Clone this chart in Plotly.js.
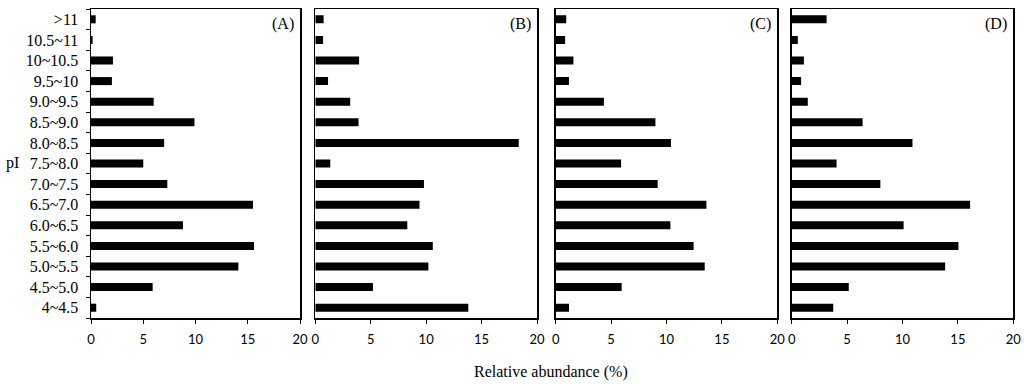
<!DOCTYPE html>
<html>
<head>
<meta charset="utf-8">
<script src="https://cdn.plot.ly/plotly-3.0.1.min.js"></script>
<style>html,body{margin:0;padding:0;background:#fff;}#chart{width:1024px;height:384px;}</style>
</head>
<body>
<div id="chart"></div>
<script>
const categories = ["4~4.5","4.5~5.0","5.0~5.5","5.5~6.0","6.0~6.5","6.5~7.0","7.0~7.5","7.5~8.0","8.0~8.5","8.5~9.0","9.0~9.5","9.5~10","10~10.5","10.5~11",">11"];
const panelA = [0.5, 5.9, 14.1, 15.6, 8.8, 15.5, 7.3, 5.0, 7.0, 9.9, 6.0, 2.0, 2.1, 0.15, 0.45];
const panelB = [13.8, 5.2, 10.2, 10.6, 8.3, 9.4, 9.8, 1.35, 18.35, 3.9, 3.15, 1.15, 3.95, 0.7, 0.75];
const panelC = [1.2, 5.95, 13.45, 12.45, 10.35, 13.6, 9.2, 5.9, 10.4, 9.0, 4.35, 1.2, 1.6, 0.85, 0.95];
const panelD = [3.75, 5.15, 13.85, 15.05, 10.1, 16.1, 8.0, 4.05, 10.9, 6.4, 1.45, 0.85, 1.1, 0.55, 3.15];
const panelLabels = ["(A)", "(B)", "(C)", "(D)"];
const xTicks = [0, 5, 10, 15, 20];

const series = [panelA, panelB, panelC, panelD];
const W = 1024, H = 384;
const xDomainsPx = [[91, 300], [315.3, 537], [555.7, 777.3], [791.7, 1013.3]];
const yDom = [1 - 318 / H, 1 - 9 / H];

const traces = series.map((vals, i) => ({
  type: 'bar',
  orientation: 'h',
  x: vals,
  y: categories,
  xaxis: i === 0 ? 'x' : 'x' + (i + 1),
  yaxis: i === 0 ? 'y' : 'y' + (i + 1),
  marker: {color: '#000000'},
  hoverinfo: 'x+y',
  showlegend: false
}));

const layout = {
  width: W, height: H,
  margin: {l: 0, r: 0, t: 0, b: 0},
  paper_bgcolor: '#ffffff',
  plot_bgcolor: '#ffffff',
  bargap: 0.61,
  showlegend: false,
  annotations: [],
  font: {family: 'Liberation Serif', color: '#000'}
};

xDomainsPx.forEach((d, i) => {
  const sfx = i === 0 ? '' : String(i + 1);
  layout['xaxis' + sfx] = {
    domain: [d[0] / W, d[1] / W],
    range: [0, 20],
    tickvals: xTicks,
    ticktext: xTicks.map(String),
    ticks: 'outside', ticklen: 4, tickwidth: 1, tickcolor: '#000',
    ticklabelstandoff: 5,
    showline: true, linecolor: '#000', linewidth: 1.5, mirror: true,
    showgrid: false, zeroline: false,
    tickfont: {family: 'Lato', size: 13, color: '#000'},
    anchor: 'y' + sfx,
    fixedrange: true
  };
  layout['yaxis' + sfx] = {
    domain: yDom,
    type: 'category',
    categoryorder: 'array',
    categoryarray: categories,
    range: [-0.5, categories.length - 0.5],
    showline: true, linecolor: '#000', linewidth: 1.5, mirror: true,
    showgrid: false, zeroline: false,
    ticks: i === 0 ? 'outside' : '',
    tickson: 'boundaries',
    ticklen: 4, tickwidth: 1, tickcolor: '#000',
    ticklabelstandoff: 8,
    showticklabels: i === 0,
    tickfont: {family: 'Liberation Serif', size: 16, color: '#000'},
    anchor: 'x' + sfx,
    fixedrange: true
  };
  layout.annotations.push({
    xref: 'paper', yref: 'paper',
    x: (d[1] - 4) / W, y: 1 - 24 / H,
    xanchor: 'right', yanchor: 'middle',
    text: panelLabels[i], showarrow: false,
    font: {family: 'Liberation Serif', size: 16, color: '#000'}
  });
});

layout.annotations.push({
  xref: 'paper', yref: 'paper', x: 551 / W, y: 1 - 372 / H,
  xanchor: 'center', yanchor: 'middle', showarrow: false,
  text: 'Relative abundance (%)',
  font: {family: 'Liberation Serif', size: 16, color: '#000'}
});
layout.annotations.push({
  xref: 'paper', yref: 'paper', x: 4 / W, y: 1 - 163 / H,
  xanchor: 'left', yanchor: 'middle', showarrow: false,
  text: 'pI',
  font: {family: 'Liberation Serif', size: 16, color: '#000'}
});

Plotly.newPlot('chart', traces, layout, {displayModeBar: false, staticPlot: true});
</script>
</body>
</html>
